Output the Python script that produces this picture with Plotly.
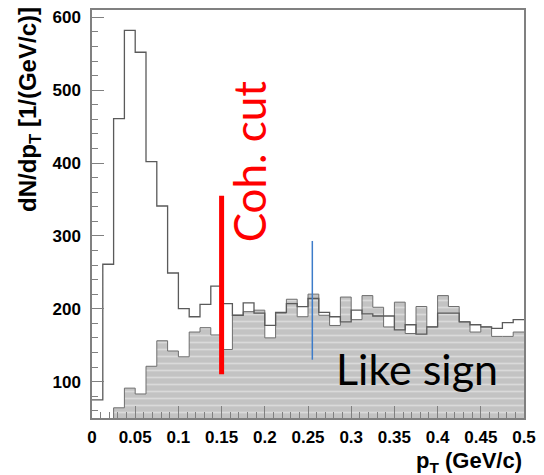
import numpy as np
import plotly.graph_objects as go

# ---- data ----
pt_lo = 0.0
pt_hi = 0.5
n_bins = 40
unlike_sign = [75, 261, 461, 582, 552, 402, 341, 249, 200, 189,
               206, 231, 207, 191, 208, 194, 177, 195, 207, 203,
               214, 195, 189, 182, 198, 193, 190, 190, 171, 178,
               165, 175, 194, 194, 182, 178, 175, 173, 181, 185]
like_sign = [0, 45, 64, 91, 83, 121, 156, 142, 134, 168,
             174, 164, 144, 191, 196, 198, 160, 194, 213, 189,
             220, 191, 177, 216, 185, 218, 202, 175, 209, 166,
             203, 175, 218, 203, 182, 168, 175, 162, 162, 168]
coh_cut_pt = 0.15
coh_cut_y = [110, 355]
marker_pt = 0.255
marker_y = [130, 293]

edges = np.linspace(pt_lo, pt_hi, n_bins + 1)
step_x = list(edges)
un_y = unlike_sign + [unlike_sign[-1]]
ls_y = like_sign + [like_sign[-1]]

fig = go.Figure()

fig.add_trace(go.Scatter(
    x=step_x, y=ls_y, mode="lines", line_shape="hv",
    line=dict(color="#6e6e6e", width=1),
    fill="tozeroy", fillcolor="#c3c3c3",
    fillpattern=dict(shape="-", bgcolor="#c3c3c3", fgcolor="#f2f2f2",
                     size=7, solidity=0.25),
    showlegend=False, hoverinfo="skip"))

fig.add_trace(go.Scatter(
    x=step_x, y=un_y, mode="lines", line_shape="hv",
    line=dict(color="#5a5a5a", width=1.3),
    showlegend=False, hoverinfo="skip"))

# coherent cut line (red) and blue marker line
fig.add_trace(go.Scatter(
    x=[coh_cut_pt, coh_cut_pt], y=coh_cut_y, mode="lines",
    line=dict(color="#ff0000", width=5), showlegend=False, hoverinfo="skip"))
fig.add_trace(go.Scatter(
    x=[marker_pt, marker_pt], y=marker_y, mode="lines",
    line=dict(color="#3d7cc9", width=1.5), showlegend=False, hoverinfo="skip"))

axis_col = "#808080"
tick_font = dict(family="Liberation Sans", size=17, color="black", weight="bold")

fig.update_xaxes(
    range=[pt_lo, pt_hi], showline=True, linecolor=axis_col, linewidth=1.5,
    mirror=True, ticks="inside", ticklen=12, tickcolor=axis_col,
    tick0=0, dtick=0.05, showgrid=False, zeroline=False,
    tickfont=tick_font, ticklabelstandoff=3,
    minor=dict(ticks="inside", dtick=0.01, ticklen=6, tickcolor=axis_col, showgrid=False))
fig.update_yaxes(
    range=[50, 610], showline=True, linecolor=axis_col, linewidth=1.5,
    mirror=True, ticks="inside", ticklen=12, tickcolor=axis_col,
    tick0=0, dtick=100, showgrid=False, zeroline=False,
    tickfont=tick_font, ticklabelstandoff=6,
    minor=dict(ticks="inside", dtick=20, ticklen=6, tickcolor=axis_col, showgrid=False))

fig.update_layout(
    width=544, height=475,
    margin=dict(l=92, r=16, t=8, b=57),
    plot_bgcolor="white", paper_bgcolor="white",
    showlegend=False,
    annotations=[
        dict(text="<b>dN/dp<sub>T</sub> [1/(GeV/c)]</b>", textangle=-90,
             xref="paper", yref="paper", x=-0.145, y=1.012,
             xanchor="center", yanchor="top", showarrow=False,
             font=dict(family="Liberation Sans", size=24, color="black")),
        dict(text="<b>p<sub>T</sub> (GeV/c)</b>",
             xref="paper", yref="paper", x=1.0, y=-0.108,
             xanchor="right", yanchor="middle", showarrow=False,
             font=dict(family="Liberation Sans", size=22, color="black")),
        dict(text="Coh. cut", textangle=-90,
             xref="x", yref="y", x=0.1815, y=402,
             xanchor="center", yanchor="middle", showarrow=False,
             font=dict(family="Lato", size=44, color="#ff0000")),
        dict(text="Like sign",
             xref="x", yref="y", x=0.2805, y=118,
             xanchor="left", yanchor="middle", showarrow=False,
             font=dict(family="Lato", size=43, color="black")),
    ],
)

fig.write_html("out.html", config={"displayModeBar": False},
               post_script="document.body.style.margin='0';")
